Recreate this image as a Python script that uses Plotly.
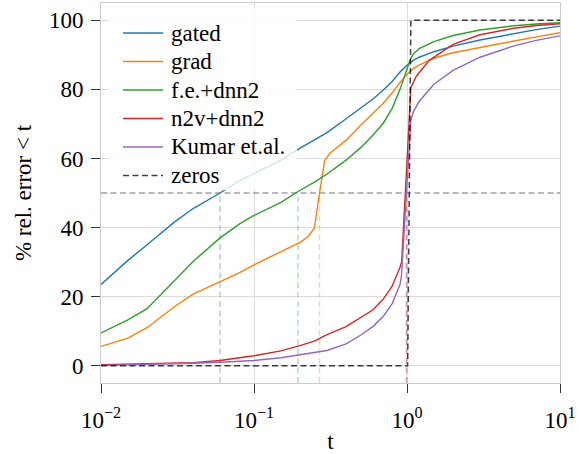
import plotly.graph_objects as go

# ---------------- data ----------------
gated_t = [0.01, 0.015, 0.02, 0.03, 0.04, 0.06, 0.08, 0.1, 0.15, 0.2, 0.3, 0.4, 0.5, 0.6, 0.7,
           0.8, 0.9, 1.0, 1.1, 1.2, 1.5, 2, 3, 5, 7, 10]
gated_v = [23.5, 30.5, 35.0, 41.5, 45.5, 50.0, 53.5, 55.7, 59.5, 63.0, 67.5, 71.5, 74.5, 77.2, 79.8,
           82.3, 85.0, 87.0, 88.4, 89.3, 90.9, 92.5, 94.3, 96.2, 97.3, 98.3]

grad_t = [0.01, 0.015, 0.02, 0.03, 0.04, 0.06, 0.08, 0.1, 0.15, 0.2, 0.226, 0.248, 0.268, 0.29,
          0.314, 0.4, 0.5, 0.6, 0.7, 0.8, 0.9, 1.0, 1.1, 1.2, 1.5, 2, 3, 5, 7, 10]
grad_v = [5.6, 8.0, 11.0, 17.0, 20.7, 24.4, 26.9, 29.2, 33.0, 35.7, 37.4, 39.8, 50.0, 59.5,
          61.5, 65.3, 69.7, 73.0, 76.0, 79.0, 82.0, 84.3, 86.0, 87.0, 89.0, 90.6, 92.2, 94.0, 95.2, 96.4]

fe_t = [0.01, 0.015, 0.02, 0.03, 0.04, 0.06, 0.08, 0.1, 0.15, 0.2, 0.25, 0.3, 0.4, 0.5, 0.6, 0.7,
        0.8, 0.9, 0.95, 1.0, 1.05, 1.1, 1.2, 1.5, 2, 3, 5, 7, 10]
fe_v = [9.5, 13.3, 16.5, 24.5, 30.2, 37.0, 41.0, 43.5, 47.3, 50.8, 53.2, 55.5, 59.5, 63.2, 66.8, 70.2,
        74.5, 80.0, 83.0, 86.5, 88.6, 90.2, 91.8, 93.8, 95.6, 97.2, 98.4, 98.9, 99.3]

n2v_t = [0.01, 0.02, 0.03, 0.04, 0.06, 0.08, 0.1, 0.15, 0.2, 0.25, 0.3, 0.4, 0.5, 0.6, 0.7, 0.8,
         0.9, 0.923, 1.06, 1.15, 1.4, 2, 3, 5, 7, 10]
n2v_v = [0.3, 0.5, 0.7, 0.9, 1.5, 2.2, 2.9, 4.3, 5.8, 7.2, 9.0, 11.3, 14.1, 16.2, 19.3, 23.0,
         28.5, 30.0, 80.5, 83.8, 88.4, 93.0, 95.8, 97.7, 98.5, 99.0]

kumar_t = [0.01, 0.02, 0.03, 0.04, 0.06, 0.08, 0.1, 0.15, 0.2, 0.25, 0.3, 0.4, 0.5, 0.6, 0.7, 0.8,
           0.9, 0.92, 1.06, 1.1, 1.2, 1.5, 2, 3, 5, 7, 10]
kumar_v = [0.1, 0.3, 0.5, 0.7, 1.0, 1.3, 1.5, 2.3, 3.2, 3.8, 4.4, 6.3, 8.9, 11.4, 14.3, 18.0,
           23.5, 26.0, 71.0, 73.5, 76.5, 81.5, 85.5, 89.3, 92.6, 94.2, 95.5]

zeros_t = [0.01, 1.01, 1.06, 10]
zeros_v = [0, 0, 100, 100]

series_names = ["gated", "grad", "f.e.+dnn2", "n2v+dnn2", "Kumar et.al."]
series_t = [gated_t, grad_t, fe_t, n2v_t, kumar_t]
series_v = [gated_v, grad_v, fe_v, n2v_v, kumar_v]
zeros_name = "zeros"

# t where each curve reaches 50 %
t_at_50 = [0.06, 0.268, 0.194, 0.994, 0.99]
level = 50

x_tickvals = [0.01, 0.1, 1, 10]
x_ticktext = ["10<sup>\u22122</sup>", "10<sup>\u22121</sup>", "10<sup>0</sup>", "10<sup>1</sup>"]
y_tickvals = [0, 20, 40, 60, 80, 100]

# ---------------- style / layout ----------------
colors = ["#1f77b4", "#ff7f0e", "#2ca02c", "#d62728", "#9467bd"]
faint = ["rgba(31,119,180,0.35)", "rgba(255,127,14,0.35)", "rgba(44,160,44,0.35)",
         "rgba(214,39,40,0.35)", "rgba(148,103,189,0.35)"]
ZERO_COLOR = "rgba(0,0,0,0.75)"
DASH = "6px,3.5px"
FONT = "Liberation Serif, Times New Roman, Times, serif"
FS = 23
Y_RANGE = [-5, 105]

W, H = 580, 454
ML, MR, MT, MB = 101, 20, 3, 71


def px_x(px):
    return (px - ML) / (W - ML - MR)


def px_y(py):
    return (H - MB - py) / (H - MT - MB)


fig = go.Figure()

# vertical 50% markers
for t50, c in zip(t_at_50, faint):
    fig.add_trace(go.Scatter(x=[t50, t50], y=[Y_RANGE[0], level], mode="lines",
                             line=dict(color=c, width=1.5, dash=DASH),
                             showlegend=False, hoverinfo="skip"))

# horizontal 50% line
fig.add_trace(go.Scatter(x=[x_tickvals[0], x_tickvals[-1]], y=[level, level], mode="lines",
                         line=dict(color="rgba(128,128,128,0.75)", width=1.5, dash=DASH),
                         showlegend=False, hoverinfo="skip"))

for name, t, v, c in zip(series_names, series_t, series_v, colors):
    fig.add_trace(go.Scatter(x=t, y=v, mode="lines", name=name, showlegend=False,
                             line=dict(color=c, width=1.4)))

fig.add_trace(go.Scatter(x=zeros_t, y=zeros_v, mode="lines", name=zeros_name, showlegend=False,
                         line=dict(color=ZERO_COLOR, width=1.5, dash=DASH)))

# ---------------- hand-made legend (matplotlib style) ----------------
shapes = [dict(type="rect", xref="paper", yref="paper", layer="above",
               x0=px_x(108), x1=px_x(297), y0=px_y(190), y1=px_y(9),
               fillcolor="rgba(255,255,255,0.8)", line=dict(width=0))]
annotations = []
leg_names = series_names + [zeros_name]
leg_colors = colors + [ZERO_COLOR]
leg_dash = ["solid"] * len(series_names) + [DASH]
row0, row_step = 33, 28.5
for i, (nm, c, d) in enumerate(zip(leg_names, leg_colors, leg_dash)):
    ry = row0 + i * row_step
    shapes.append(dict(type="line", xref="paper", yref="paper", layer="above",
                       x0=px_x(123), x1=px_x(163), y0=px_y(ry), y1=px_y(ry),
                       line=dict(color=c, width=1.4, dash=d)))
    annotations.append(dict(xref="paper", yref="paper", x=px_x(169), y=px_y(ry),
                            xanchor="left", yanchor="middle", showarrow=False, text=nm,
                            font=dict(family=FONT, size=FS, color="black")))

axis_common = dict(
    showline=True, linecolor="#cccccc", linewidth=1, mirror=True,
    showgrid=True, gridcolor="#dcdcdc", gridwidth=1,
    ticks="outside", ticklen=9, tickcolor="#333333", tickwidth=1,
    tickfont=dict(family=FONT, size=FS, color="black"),
    zeroline=False, automargin=False,
)

fig.update_layout(
    width=W, height=H,
    margin=dict(l=ML, r=MR, t=MT, b=MB),
    paper_bgcolor="white", plot_bgcolor="white",
    font=dict(family=FONT, color="black"),
    xaxis=dict(type="log", range=[-2, 1], tickvals=x_tickvals, ticktext=x_ticktext,
               ticklabelstandoff=7,
               title=dict(text="t", font=dict(family=FONT, size=FS), standoff=9),
               **axis_common),
    yaxis=dict(range=Y_RANGE, tickvals=y_tickvals, ticklabelstandoff=3,
               title=dict(text="% rel. error &lt; t", font=dict(family=FONT, size=FS), standoff=10),
               **axis_common),
    shapes=shapes,
    annotations=annotations,
    showlegend=False,
)

fig.write_html("out.html",
               config={"displayModeBar": False, "staticPlot": True},
               post_script="document.body.style.margin='0';document.body.style.overflow='hidden';")
